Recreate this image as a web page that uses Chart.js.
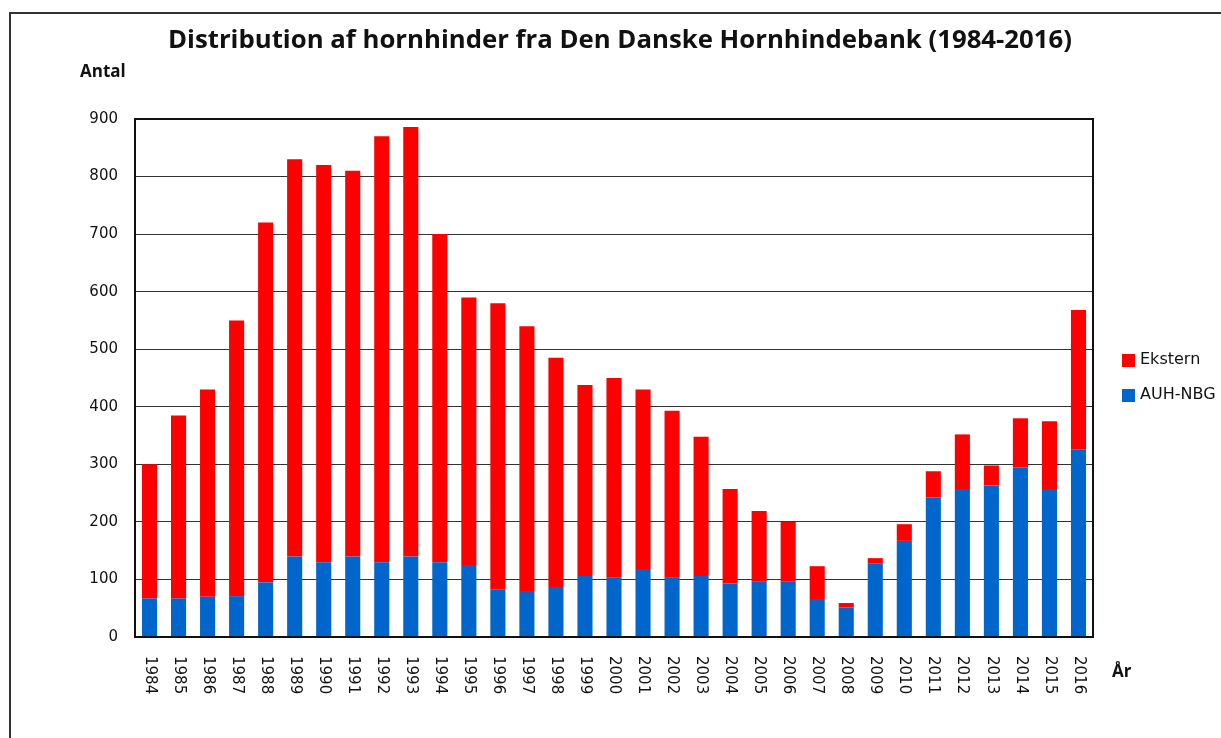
<!DOCTYPE html>
<html>
<head>
<meta charset="utf-8">
<script src="https://cdn.jsdelivr.net/npm/chart.js@4.4.1/dist/chart.umd.min.js"></script>
<style>
  html, body { margin: 0; padding: 0; background: #fff; }
  #wrap { position: relative; width: 1221px; height: 738px; overflow: hidden; }
  #frame { position: absolute; left: 9px; top: 12px; width: 1300px; height: 800px;
           border-left: 2px solid #333; border-top: 2px solid #333; }
  canvas { position: absolute; left: 0; top: 0; }
</style>
</head>
<body>
<div id="wrap">
  <div id="frame"></div>
  <canvas id="c" width="1221" height="738"></canvas>
</div>
<script>
const titleText = "Distribution af hornhinder fra Den Danske Hornhindebank (1984-2016)";
const yAxisLabel = "Antal";
const xAxisLabel = "År";
const years = ["1984","1985","1986","1987","1988","1989","1990","1991","1992","1993","1994",
  "1995","1996","1997","1998","1999","2000","2001","2002","2003","2004","2005","2006","2007",
  "2008","2009","2010","2011","2012","2013","2014","2015","2016"];
const auhNbg = [67,67,70,71,95,140,130,140,130,140,130,
  125,83,80,87,106,103,118,104,106,93,97,97,66,
  51,128,167,243,257,263,295,257,326];
const totals = [300,385,430,550,720,830,820,810,870,886,700,
  590,580,540,485,438,450,430,393,348,257,219,200,123,
  59,137,196,288,352,298,380,375,568];
const ekstern = totals.map((t, i) => t - auhNbg[i]);
const yTicks = [0,100,200,300,400,500,600,700,800,900];

const RED = "#ff0000", BLUE = "#0066cc";

const deco = {
  id: "deco",
  afterDraw(chart) {
    const ctx = chart.ctx;
    const x = chart.scales.x, y = chart.scales.y, a = chart.chartArea;
    ctx.save();
    // plot border
    ctx.strokeStyle = "#111"; ctx.lineWidth = 2;
    ctx.strokeRect(a.left, a.top, a.right - a.left, a.bottom - a.top);
    // title
    ctx.fillStyle = "#111";
    let fs = 25;
    ctx.font = "bold " + fs + "px 'Open Sans'";
    const w = ctx.measureText(titleText).width;
    fs = fs * 904 / w;
    ctx.font = "bold " + fs.toFixed(2) + "px 'Open Sans'";
    ctx.textAlign = "center"; ctx.textBaseline = "middle";
    ctx.fillText(titleText, 620, 41);
    // axis labels
    ctx.font = "bold 17px 'Open Sans'";
    ctx.textAlign = "left";
    ctx.fillText(yAxisLabel, 80, 72);
    ctx.font = "bold 17px 'Open Sans'";
    ctx.fillText(xAxisLabel, 1112, 672);
    // rotated x labels (+90deg, reading downwards)
    ctx.font = "15px 'DejaVu Sans'";
    ctx.fillStyle = "#111";
    years.forEach((lab, i) => {
      const px = x.getPixelForValue(i);
      ctx.save();
      ctx.translate(px, a.bottom + 19);
      ctx.rotate(Math.PI / 2);
      ctx.textAlign = "left"; ctx.textBaseline = "middle";
      ctx.fillText(lab, 0, 0);
      ctx.restore();
    });
    // legend (Ekstern on top)
    const items = [chart.data.datasets[1], chart.data.datasets[0]];
    ctx.font = "16px 'DejaVu Sans'";
    ctx.textBaseline = "middle"; ctx.textAlign = "left";
    items.forEach((ds, k) => {
      const cy = 360 + k * 35;
      ctx.fillStyle = ds.backgroundColor;
      ctx.fillRect(1122, cy - 6, 13, 13);
      ctx.fillStyle = "#111";
      ctx.fillText(ds.label, 1140, cy);
    });
    ctx.restore();
  }
};

new Chart(document.getElementById("c"), {
  type: "bar",
  data: {
    labels: years,
    datasets: [
      { label: "AUH-NBG", data: auhNbg, backgroundColor: BLUE, stack: "s",
        barPercentage: 0.52, categoryPercentage: 1.0 },
      { label: "Ekstern", data: ekstern, backgroundColor: RED, stack: "s",
        barPercentage: 0.52, categoryPercentage: 1.0 }
    ]
  },
  options: {
    responsive: false,
    animation: false,
    layout: { padding: { left: 0, top: 119, right: 128, bottom: 0 } },
    plugins: { legend: { display: false }, title: { display: false }, tooltip: { enabled: false } },
    scales: {
      x: {
        stacked: true,
        grid: { display: false, drawTicks: false },
        border: { display: false },
        ticks: { display: false },
        afterFit(s) { s.height = 101; }
      },
      y: {
        stacked: true,
        min: 0, max: 900,
        afterBuildTicks(s) { s.ticks = yTicks.map(v => ({ value: v })); },
        grid: { color: "#333", lineWidth: 1, drawTicks: false },
        border: { display: false },
        ticks: { color: "#111", font: { family: "'DejaVu Sans'", size: 15 }, padding: 17 },
        afterFit(s) { s.width = 135; }
      }
    }
  },
  plugins: [deco]
});
</script>
</body>
</html>
